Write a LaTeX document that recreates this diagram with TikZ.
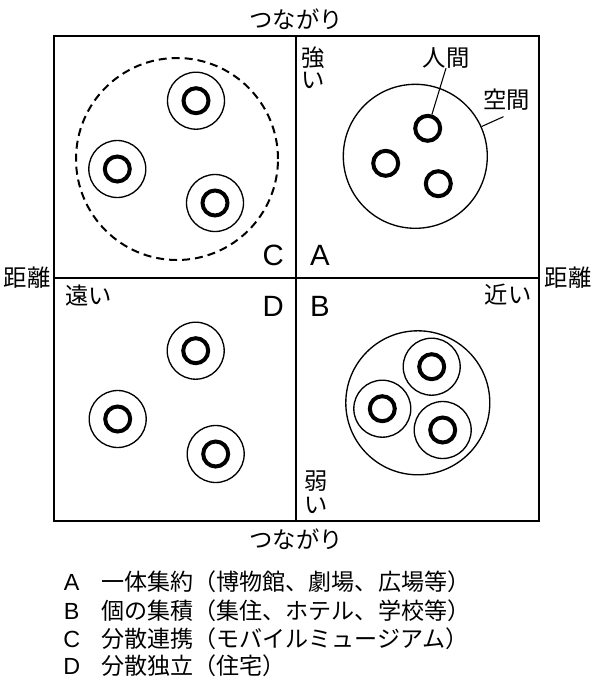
\documentclass[tikz,border=0pt]{standalone}
\usepackage{fontspec}
\newfontfamily\jpfont{Noto Sans CJK JP}
\newfontfamily\latfont{Liberation Sans}

\begin{document}
\begin{tikzpicture}[x=0.75pt,y=-0.75pt,
		person/.style={circle, draw, line width=3pt, minimum size=18.75pt, inner sep=0pt},
		room/.style={circle, draw, line width=1pt, minimum size=42.75pt, inner sep=0pt},
		space/.style={circle, draw, line width=1pt, minimum size=108pt, inner sep=0pt},
		jp/.style={font=\jpfont\fontsize{17.5}{20}\selectfont, inner sep=0pt, anchor=base},
		legend/.style={font=\jpfont\fontsize{17.3}{20}\selectfont, inner sep=0pt, anchor=base west},
		quad/.style={font=\latfont\fontsize{22}{24}\selectfont, inner sep=0pt, anchor=base},
		key/.style={font=\latfont\fontsize{17.5}{20}\selectfont, inner sep=0pt, anchor=base}]
			\useasboundingbox (0,0) rectangle (600,683);
			%\draw [help lines] (0,0) grid (600,683);
			\draw [line width=1.5pt] (54,36) rectangle (539,521);
			\draw [line width=1.1pt] (296,36) -- (296,521);
			\draw [line width=1.1pt] (54,278) -- (539,278);

			\node[jp] (topaxis) at (296,28.5) {つながり};
			\node[jp] (bottomaxis) at (296,548) {つながり};
			\node[jp] (leftaxis) at (27,286) {距離};
			\node[jp] (rightaxis) at (568,286) {距離};
			\node[jp] (far) at (88.5,304.5) {遠い};
			\node[jp] (near) at (508,303.5) {近い};
			\node[jp] (strong1) at (313,66) {強};
			\node[jp] (strong2) at (313,88) {い};
			\node[jp] (weak1) at (316.5,489.5) {弱};
			\node[jp] (weak2) at (316.5,513) {い};

			% C
			\draw[line width=1.5pt, dash pattern=on 6pt off 3.75pt] (177,159) circle (75.75pt);
			\node[room] (cr1) at (196,100.7) {};
			\node[person] (c1) at (196,100.7) {};
			\node[room] (cr2) at (117.3,169) {};
			\node[person] (c2) at (117.3,169) {};
			\node[room] (cr3) at (215,203) {};
			\node[person] (c3) at (215,203) {};

			% A
			\node[space] (aspace) at (415.3,156.3) {};
			\node[person] (a1) at (427.7,128.3) {};
			\node[person] (a2) at (385.7,163.3) {};
			\node[person] (a3) at (438.3,183.7) {};
			\node[jp] (ningen) at (446,66) {人間};
			\node[jp] (kukan) at (506.5,108.5) {空間};
			\draw[line width=0.8pt] (ningen.south) -- (a1);
			\draw[line width=0.8pt] ([shift={(-3,6)}]kukan.south) -- (aspace);

			% D
			\node[room] (dr1) at (195.7,350.7) {};
			\node[person] (d1) at (195.7,350.7) {};
			\node[room] (dr2) at (117.7,419) {};
			\node[person] (d2) at (117.7,419) {};
			\node[room] (dr3) at (215.7,454) {};
			\node[person] (d3) at (215.7,454) {};

			% B
			\node[space] (bspace) at (417.8,402.8) {};
			\node[room] (br1) at (431.7,366.7) {};
			\node[person] (b1) at (431.7,366.7) {};
			\node[room] (br2) at (382.3,408.7) {};
			\node[person] (b2) at (382.3,408.7) {};
			\node[room] (br3) at (442.7,430) {};
			\node[person] (b3) at (442.7,430) {};

			\node[quad] (qc) at (273.3,265.5) {C};
			\node[quad] (qa) at (320,265.5) {A};
			\node[quad] (qd) at (273.3,316.5) {D};
			\node[quad] (qb) at (320,316.5) {B};

			\node[key] (keya) at (71.7,590) {A};
			\node[key] (keyb) at (71.7,619) {B};
			\node[key] (keyc) at (71.7,647) {C};
			\node[key] (keyd) at (71.7,674.5) {D};
			\node[legend] (texta) at (101,590) {一体集約（博物館、劇場、広場等）};
			\node[legend] (textb) at (101,619) {個の集積（集住、ホテル、学校等）};
			\node[legend] (textc) at (101,647) {分散連携（モバイルミュージアム）};
			\node[legend] (textd) at (101,674.5) {分散独立（住宅）};
		\end{tikzpicture}
\end{document}
